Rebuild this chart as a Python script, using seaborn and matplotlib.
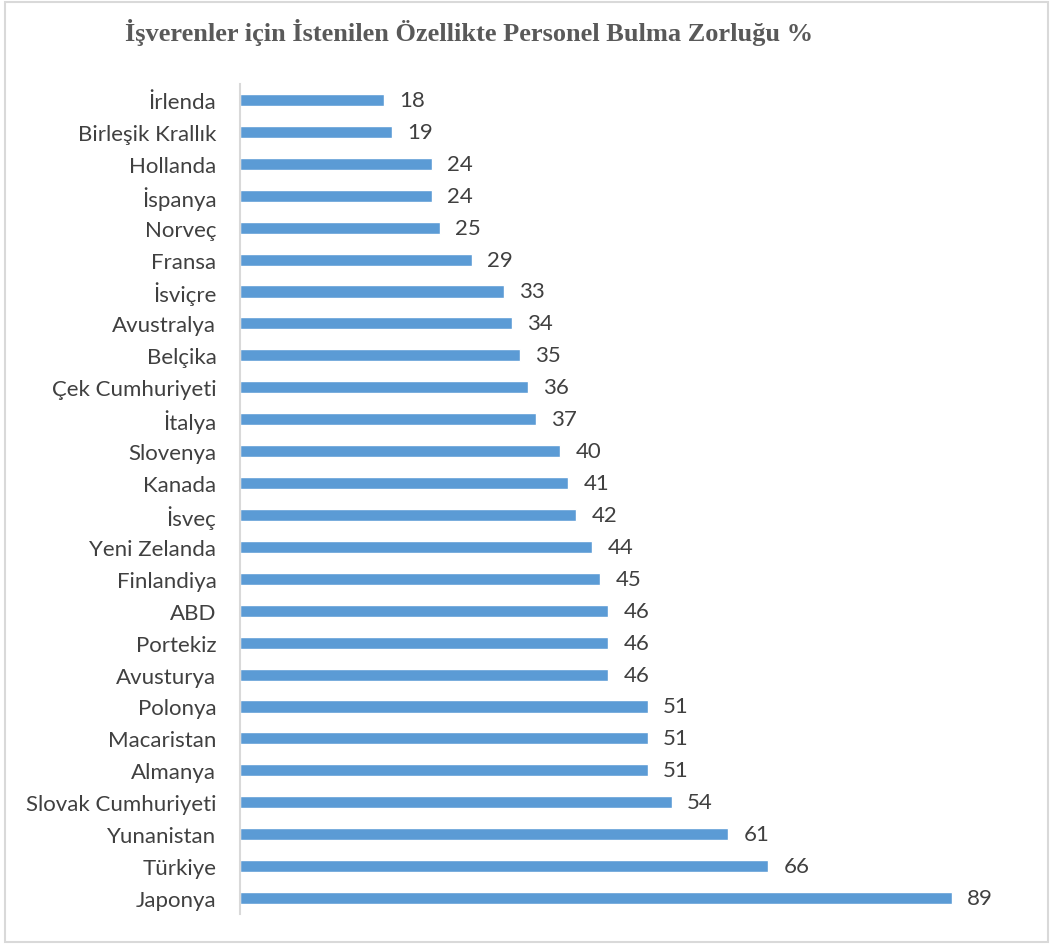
import pandas as pd
import matplotlib.pyplot as plt
import seaborn as sns
from matplotlib.patches import Rectangle

# veriler
ulkeler = ["İrlenda", "Birleşik Krallık", "Hollanda", "İspanya", "Norveç", "Fransa",
           "İsviçre", "Avustralya", "Belçika", "Çek Cumhuriyeti", "İtalya", "Slovenya",
           "Kanada", "İsveç", "Yeni Zelanda", "Finlandiya", "ABD", "Portekiz",
           "Avusturya", "Polonya", "Macaristan", "Almanya", "Slovak Cumhuriyeti",
           "Yunanistan", "Türkiye", "Japonya"]
degerler = [18, 19, 24, 24, 25, 29, 33, 34, 35, 36, 37, 40, 41, 42, 44, 45, 46, 46,
            46, 51, 51, 51, 54, 61, 66, 89]
baslik = "İşverenler için İstenilen Özellikte Personel Bulma Zorluğu %"

sns.set_style("white")
plt.rcParams['font.family'] = ['Lato', 'DejaVu Sans']

BAR_RENK = '#5B9BD5'
YAZI_RENK = '#404040'

df = pd.DataFrame({'ulke': ulkeler, 'deger': degerler})

fig = plt.figure(figsize=(10.59, 9.45), dpi=100)
ax = fig.add_axes([240 / 1059, 30 / 945, 800 / 1059, 830 / 945])

sns.barplot(x='deger', y='ulke', data=df, order=ulkeler, color=BAR_RENK,
            orient='h', width=0.38, saturation=1, ax=ax)

ax.set_xlim(0, 100)
ax.set_xlabel("")
ax.set_ylabel("")
ax.set_xticks([])
for s in ['top', 'right', 'bottom']:
    ax.spines[s].set_visible(False)
ax.spines['left'].set_color('#D9D9D9')
ax.spines['left'].set_linewidth(1.5)
ax.tick_params(axis='y', length=0, pad=17, labelsize=16, labelcolor=YAZI_RENK)

ax.bar_label(ax.containers[0], padding=11, fontsize=16, color=YAZI_RENK)

fig.text(125 / 1059, 1 - 33 / 945, baslik, ha='left', va='center',
         fontsize=19, fontweight='bold', color='#595959',
         family=['Liberation Serif', 'DejaVu Serif'])

# grafik çerçevesi
fig.patches.append(Rectangle((5 / 1059, 2 / 945), 1043 / 1059, 940 / 945,
                             transform=fig.transFigure, fill=False,
                             edgecolor='#D9D9D9', linewidth=1.5))

plt.savefig("out.png", dpi=100)
